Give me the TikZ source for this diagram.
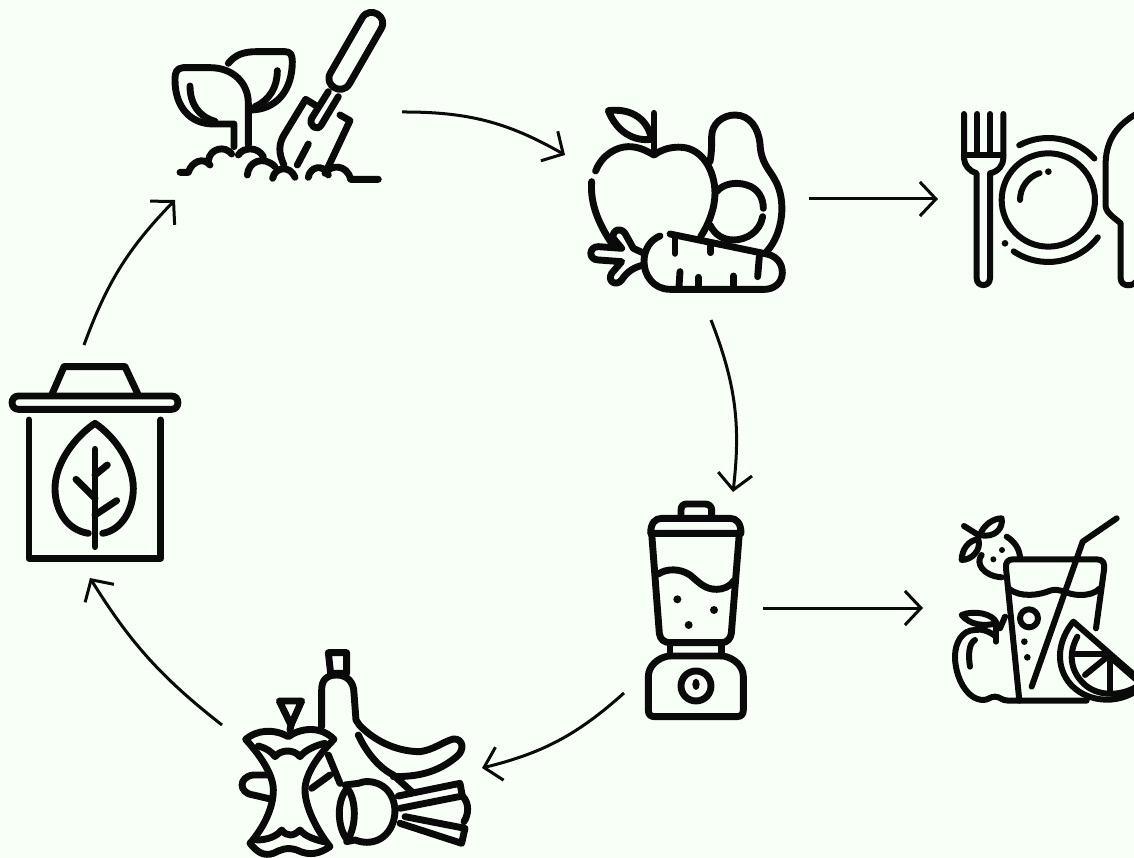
\documentclass[tikz,border=0pt]{standalone}
\usepackage{xcolor}
\usetikzlibrary{arrows.meta}
\definecolor{paper}{HTML}{F8FFF6}
\definecolor{ink}{HTML}{0A0A0A}
\tikzset{
  icon/.style={draw=ink, line width=6.9pt, line cap=round, line join=round},
  thinicon/.style={draw=ink, line width=6pt, line cap=round, line join=round},
  dot/.style={fill=ink, draw=none},
  flow/.style={draw=ink, line width=3pt, -{Straight Barb[length=16pt,width=34pt,line width=3pt]}},
  zoomed/.style={x=0.3333pt, y=-0.3333pt}
}
\begin{document}
\begin{tikzpicture}[x=1pt, y=-1pt]
  \clip (0,0) rectangle (1134,858);
  \fill[paper] (0,0) rectangle (1134,858);

  % Arrow ends
  \coordinate (plantout) at (402,112);
  \coordinate (fruitin) at (565,155);
  \coordinate (fruitout) at (809,199);
  \coordinate (platein) at (938,199);
  \coordinate (fruitdown) at (711,320);
  \coordinate (blenderin) at (733,492);
  \coordinate (blenderout) at (763,608);
  \coordinate (drinkin) at (923,608);
  \coordinate (blenderleft) at (624,693);
  \coordinate (wastein) at (482,768);
  \coordinate (wasteout) at (222,725);
  \coordinate (binin) at (90,578);
  \coordinate (binout) at (84,345);
  \coordinate (plantin) at (175,200);

  % Arrows
  \draw[flow] (plantout) to[bend left=15] (fruitin);
  \draw[flow] (fruitout) -- (platein);
  \draw[flow] (fruitdown) to[bend left=14] (blenderin);
  \draw[flow] (blenderout) -- (drinkin);
  \draw[flow] (blenderleft) to[bend left=14] (wastein);
  \draw[flow] (wasteout) to[bend left=10] (binin);
  \draw[flow] (binout) to[bend left=12] (plantin);

  % Seedling and trowel
  \begin{scope}[shift={(160,0)}, zoomed]
    \draw[icon] (222,440) -- (222,372) -- (160,372) .. controls (90,372) and (45,320) .. (45,240)
      .. controls (45,215) and (50,205) .. (70,203) -- (150,203)
      .. controls (220,203) and (265,250) .. (265,310) -- (265,435);
    \draw[icon] (90,258) .. controls (90,310) and (115,350) .. (165,364);
    \draw[icon] (205,190) .. controls (225,165) and (250,155) .. (290,155) -- (375,155)
      .. controls (392,155) and (397,165) .. (397,185) .. controls (397,270) and (350,330) .. (270,330);
    \draw[icon] (352,212) .. controls (352,260) and (330,300) .. (285,320);
    % handle
    \draw[icon] (607,53) -- (512,218) .. controls (489,255) and (545,289) .. (568,252) -- (663,87)
      .. controls (686,50) and (630,16) .. (607,53) -- cycle;
    \draw[icon] (505,275) -- (455,355) .. controls (445,378) and (472,395) .. (484,375) -- (535,290);
    % blade
    \draw[icon] (470,318) -- (437,298) -- (375,400) .. controls (355,430) and (355,460) .. (372,495);
    \draw[icon] (540,345) -- (570,362) -- (505,500);
    \draw[icon] (445,432) -- (412,495);
    % soil
    \draw[icon] (60,517) -- (85,517) .. controls (95,485) and (130,470) .. (150,495);
    \draw[icon] (145,482) .. controls (150,445) and (195,435) .. (215,462);
    \draw[icon] (235,465) .. controls (250,440) and (295,440) .. (310,470);
    \draw[icon] (262,525) .. controls (265,485) and (310,465) .. (345,500);
    \draw[icon] (338,535) .. controls (345,500) and (390,495) .. (405,532);
    \draw[icon] (445,532) .. controls (450,500) and (490,490) .. (505,525);
    \draw[icon] (495,520) .. controls (510,495) and (560,490) .. (572,538) -- (655,538);
  \end{scope}

  % Fruit and vegetables
  \begin{scope}[shift={(570,90)}, zoomed]
    \draw[icon] (77,243) .. controls (95,195) and (140,170) .. (175,170) .. controls (205,170) and (225,180) .. (252,195)
      .. controls (280,175) and (310,170) .. (335,172) .. controls (395,175) and (435,240) .. (435,310)
      .. controls (435,355) and (415,405) .. (392,440);
    \draw[icon] (65,275) .. controls (60,340) and (85,400) .. (125,460);
    \draw[icon] (252,70) -- (252,195);
    \draw[icon] (115,62) .. controls (170,55) and (230,75) .. (245,148) .. controls (190,155) and (140,125) .. (115,62) -- cycle;
    \draw[icon] (420,215) .. controls (425,190) and (425,165) .. (425,140) .. controls (425,100) and (460,75) .. (495,75)
      .. controls (540,75) and (565,115) .. (570,160) .. controls (572,220) and (600,240) .. (615,270)
      .. controls (650,330) and (640,430) .. (590,485);
    \draw[icon] (440,305) .. controls (460,280) and (500,275) .. (530,285) .. controls (565,295) and (580,325) .. (580,355);
    \draw[icon] (578,380) .. controls (570,425) and (530,450) .. (490,450) .. controls (460,450) and (435,435) .. (420,405);
    \draw[icon] (300,432) -- (580,490) .. controls (620,495) and (637,520) .. (637,548)
      .. controls (637,580) and (610,598) .. (585,598) -- (300,598) .. controls (250,598) and (222,555) .. (222,515)
      .. controls (222,480) and (240,450) .. (270,438);
    \foreach \xa/\ya/\xb/\yb in {315/440/315/490, 422/460/422/488, 568/500/563/560, 330/545/327/590, 385/562/385/590, 490/558/490/590} {
      \draw[icon] (\xa,\ya) -- (\xb,\yb);
    }
    \draw[icon] (222,490) -- (190,475) -- (165,430) .. controls (150,410) and (125,420) .. (130,445) -- (155,475)
      -- (85,470) .. controls (55,470) and (55,510) .. (85,510) -- (155,515) -- (125,550)
      .. controls (110,575) and (140,590) .. (155,570) .. controls (170,545) and (195,530) .. (222,525);
  \end{scope}

  % Plate and cutlery
  \begin{scope}[shift={(940,90)}, zoomed]
    \draw[thinicon] (72,72) -- (72,205) .. controls (72,225) and (90,245) .. (110,250) -- (110,565)
      .. controls (110,592) and (150,592) .. (150,565) -- (150,250) .. controls (175,245) and (190,225) .. (190,205) -- (190,72);
    \draw[thinicon] (72,195) -- (190,195);
    \draw[thinicon] (112,72) -- (112,195);
    \draw[thinicon] (150,72) -- (150,195);
    \draw[thinicon] (325,330) circle (140);
    \draw[thinicon] (325,330) ++(242:186) arc[start angle=242, end angle=318, radius=186];
    \draw[thinicon] (325,330) ++(37:186) arc[start angle=37, end angle=124, radius=186];
    \draw[thinicon] (325,330) ++(180:85) arc[start angle=180, end angle=252, radius=85];
    \fill[dot] (195,460) circle (10);
    \fill[dot] (325,245) circle (10);
    \draw[thinicon] (592,70) .. controls (530,105) and (500,150) .. (497,215) -- (497,350)
      .. controls (500,370) and (525,385) .. (542,400) -- (542,565) .. controls (542,592) and (582,592) .. (592,570);
  \end{scope}

  % Blender
  \begin{scope}[shift={(630,490)}, zoomed]
    \draw[icon] (153,80) -- (153,60) .. controls (153,48) and (160,42) .. (170,42) -- (225,42)
      .. controls (238,42) and (245,50) .. (245,60) -- (245,80);
    \draw[icon] (62,130) .. controls (62,100) and (75,85) .. (95,85) -- (300,85) .. controls (320,85) and (333,100) .. (333,130) -- cycle;
    \draw[icon] (65,130) -- (88,430) .. controls (90,450) and (105,458) .. (120,458) -- (275,458)
      .. controls (292,458) and (302,445) .. (304,430) -- (328,130);
    \draw[icon] (85,252) .. controls (110,235) and (150,235) .. (180,255) .. controls (210,280) and (225,298) .. (260,298)
      .. controls (280,298) and (300,290) .. (312,272);
    \fill[dot] (142,328) circle (12);
    \fill[dot] (252,360) circle (12);
    \fill[dot] (176,405) circle (12);
    \draw[icon] (120,458) -- (120,498);
    \draw[icon] (275,458) -- (275,498);
    \draw[icon] (115,498) .. controls (80,505) and (55,530) .. (55,560) -- (55,660) .. controls (55,675) and (62,680) .. (75,680)
      -- (320,680) .. controls (335,680) and (340,672) .. (340,660) -- (340,560) .. controls (340,530) and (315,505) .. (280,498) -- cycle;
    \draw[icon] (198,588) circle (45);
    \fill[dot] (198,583) ellipse (11 and 17);
  \end{scope}

  % Drink and fruit
  \begin{scope}[shift={(940,500)}, zoomed]
    \draw[thinicon] (238,602) -- (198,205) .. controls (196,185) and (205,178) .. (220,178) -- (470,178)
      .. controls (490,178) and (495,190) .. (492,210) -- (468,385);
    \draw[thinicon] (205,265) .. controls (240,295) and (300,285) .. (330,272) .. controls (360,262) and (380,285) .. (420,285)
      .. controls (445,285) and (465,280) .. (480,265);
    \draw[thinicon] (275,560) -- (428,125) -- (530,55);
    \draw[thinicon] (267,355) circle (27);
    \fill[dot] (253,425) circle (10);
    \fill[dot] (262,472) circle (10);
    % strawberry
    \draw[thinicon] (125,165) .. controls (105,190) and (130,228) .. (185,232);
    \draw[thinicon] (200,110) .. controls (225,125) and (240,150) .. (240,175);
    \fill[dot] (186,150) circle (9);
    \fill[dot] (160,178) circle (9);
    \draw[thinicon] (72,78) -- (115,105);
    \draw[thinicon] (120,105) .. controls (130,75) and (160,55) .. (185,55) .. controls (190,85) and (165,115) .. (120,105) -- cycle;
    \draw[thinicon] (115,118) .. controls (85,120) and (65,150) .. (65,180) .. controls (95,180) and (125,150) .. (115,118) -- cycle;
    % apple
    \draw[thinicon] (168,410) .. controls (150,395) and (125,385) .. (105,390) .. controls (65,390) and (45,430) .. (45,470)
      .. controls (45,530) and (80,600) .. (130,600) .. controls (145,600) and (150,590) .. (165,590)
      .. controls (180,590) and (185,602) .. (205,602) -- (440,602);
    \draw[thinicon] (168,375) -- (168,425);
    \draw[thinicon] (105,420) .. controls (85,430) and (85,470) .. (90,500);
    \draw[thinicon] (65,345) .. controls (100,330) and (160,340) .. (170,370) .. controls (130,380) and (90,375) .. (65,345) -- cycle;
    \draw[thinicon] (180,385) -- (195,350);
    % orange
    \draw[thinicon] (600,540) -- (400,365) .. controls (355,420) and (345,490) .. (385,545) .. controls (430,605) and (530,620) .. (600,565);
    \draw[thinicon] (412,410) .. controls (385,460) and (390,510) .. (430,550) .. controls (470,590) and (540,590) .. (590,560);
    \draw[thinicon] (405,462) -- (505,462);
    \draw[thinicon] (435,525) -- (505,468);
    \draw[thinicon] (510,470) -- (510,580);
    \draw[thinicon] (515,475) -- (590,540);
  \end{scope}

  % Food waste
  \begin{scope}[shift={(230,640)}, zoomed]
    % banana
    \draw[icon] (295,38) -- (350,38) -- (350,100) -- (302,100) -- cycle;
    \draw[icon] (275,260) -- (275,150) .. controls (275,120) and (290,105) .. (320,105) .. controls (350,105) and (372,125) .. (372,160)
      -- (378,240) -- (388,255) .. controls (440,310) and (510,335) .. (570,335) .. controls (610,330) and (640,305) .. (670,297)
      .. controls (700,295) and (705,330) .. (680,350) .. controls (620,400) and (560,410) .. (490,410);
    \draw[icon] (385,285) .. controls (410,340) and (450,385) .. (490,405) -- (545,455);
    \draw[icon] (295,345) -- (330,430);
    \draw[icon] (245,445) -- (300,405);
    % core
    \draw[icon] (47,298) .. controls (80,270) and (130,265) .. (175,290) .. controls (210,265) and (270,255) .. (312,298)
      .. controls (270,340) and (225,400) .. (225,450) .. controls (225,500) and (260,570) .. (300,620)
      .. controls (270,640) and (240,650) .. (200,630) .. controls (170,620) and (150,630) .. (130,640)
      .. controls (100,650) and (80,635) .. (60,610) .. controls (95,570) and (130,510) .. (130,450)
      .. controls (130,400) and (85,340) .. (47,298) -- cycle;
    \draw[icon] (85,318) .. controls (110,325) and (125,335) .. (135,350) .. controls (150,330) and (190,325) .. (210,350)
      .. controls (225,330) and (260,315) .. (285,310);
    \draw[icon] (80,600) .. controls (110,600) and (140,590) .. (155,570) .. controls (170,590) and (190,590) .. (210,570)
      .. controls (225,590) and (260,600) .. (280,605);
    \draw[icon] (148,183) -- (215,183) -- (183,255) -- cycle;
    \draw[icon] (183,255) -- (180,270);
    \draw[icon] (112,405) -- (70,405) .. controls (25,410) and (25,460) .. (70,465) -- (125,478);
    % root
    \draw[icon] (345,435) -- (385,430) .. controls (420,415) and (490,430) .. (495,510) .. controls (495,580) and (440,625) .. (375,600) -- (350,605);
    \draw[icon] (352,445) .. controls (320,480) and (320,560) .. (352,600) .. controls (380,560) and (380,480) .. (352,445) -- cycle;
    \draw[icon] (505,468) -- (690,430) -- (697,468) -- (510,505);
    \draw[icon] (697,468) .. controls (720,490) and (715,525) .. (702,545);
    \draw[icon] (525,530) -- (705,565) -- (695,610) -- (510,550);
  \end{scope}

  % Compost bin
  \begin{scope}[shift={(0,350)}, zoomed]
    \draw[icon] (155,135) -- (192,50) -- (375,50) -- (415,135);
    \draw[icon] (55,138) -- (515,138) .. controls (540,138) and (540,178) .. (515,178) -- (55,178) .. controls (30,178) and (30,138) .. (55,138) -- cycle;
    \draw[icon] (87,210) -- (87,625) -- (482,625) -- (482,210);
    \draw[icon] (265,550) .. controls (200,540) and (165,480) .. (165,415) .. controls (165,340) and (225,260) .. (285,220)
      .. controls (345,260) and (400,340) .. (400,415) .. controls (400,480) and (365,540) .. (308,550);
    \draw[icon] (285,298) -- (285,590);
    \draw[icon] (285,375) -- (322,345);
    \draw[icon] (228,388) -- (285,445);
    \draw[icon] (285,495) -- (350,452);
  \end{scope}
\end{tikzpicture}
\end{document}
